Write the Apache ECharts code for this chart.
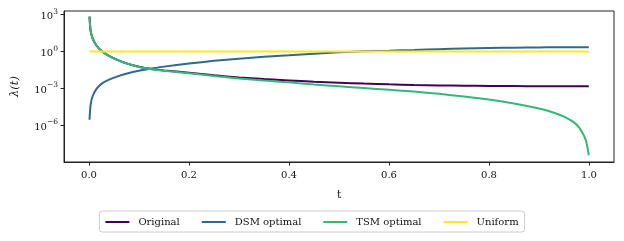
<!DOCTYPE html>
<html>
<head>
<meta charset="utf-8">
<script src="https://cdn.jsdelivr.net/npm/echarts@6/dist/echarts.min.js"></script>
<style>
html,body{margin:0;padding:0;background:#fff;}
#chart{width:624px;height:241px;}
</style>
</head>
<body>
<div id="chart"></div>
<script>
// time grid (t)
var tValues = [0.001, 0.003, 0.007, 0.015, 0.025, 0.04, 0.06, 0.08, 0.1, 0.125, 0.15, 0.2, 0.25, 0.3, 0.35, 0.4, 0.45, 0.5, 0.55, 0.6, 0.65, 0.7, 0.75, 0.8, 0.85, 0.9, 0.93, 0.95, 0.97, 0.98, 0.99, 0.995, 0.9996];
// log10 of lambda(t)
var originalLog10 = [2.84, 1.76, 1.1, 0.5, 0.06, -0.35, -0.73, -1.02, -1.23, -1.41, -1.53, -1.72, -1.92, -2.1, -2.23, -2.34, -2.45, -2.53, -2.6, -2.66, -2.71, -2.75, -2.77, -2.79, -2.8, -2.81, -2.82, -2.82, -2.82, -2.82, -2.82, -2.82, -2.82];
var dsmLog10 = [-5.54, -4.38, -3.65, -3.03, -2.62, -2.28, -1.97, -1.74, -1.56, -1.38, -1.22, -0.97, -0.75, -0.58, -0.42, -0.30, -0.17, -0.06, 0.03, 0.08, 0.13, 0.20, 0.25, 0.29, 0.32, 0.34, 0.35, 0.35, 0.36, 0.36, 0.36, 0.36, 0.36];
var tsmLog10 = [2.84, 1.76, 1.1, 0.5, 0.06, -0.35, -0.74, -1.03, -1.25, -1.43, -1.55, -1.75, -1.98, -2.19, -2.35, -2.5, -2.68, -2.82, -2.96, -3.1, -3.25, -3.43, -3.65, -3.9, -4.22, -4.63, -4.97, -5.28, -5.75, -6.16, -6.84, -7.4, -8.43];
var uniformT = [0.001, 0.9996];
var uniformLog10 = [0, 0];
// tick labels
var xTicks = [0.0, 0.2, 0.4, 0.6, 0.8, 1.0];
var yTickExps = [-6, -3, 0, 3];
var seriesNames = ['Original', 'DSM optimal', 'TSM optimal', 'Uniform'];
var colors = ['#440154', '#31688e', '#35b779', '#fde725'];

function pairs(xs, ys) { return xs.map(function (x, i) { return [x, ys[i]]; }); }

var FONT = 'DejaVu Serif';
var chart = echarts.init(document.getElementById('chart'), null, {renderer: 'canvas'});
var data = [pairs(tValues, originalLog10), pairs(tValues, dsmLog10), pairs(tValues, tsmLog10), pairs(uniformT, uniformLog10)];

chart.setOption({
  animation: false,
  backgroundColor: '#fff',
  color: colors,
  grid: {left: 64, right: 10, top: 11, bottom: 79, show: true, borderColor: '#222', borderWidth: 1, backgroundColor: 'transparent'},
  legend: {
    left: 'center', top: 211,
    data: seriesNames,
    icon: 'rect', itemWidth: 24, itemHeight: 2, itemGap: 22,
    borderColor: '#cccccc', borderWidth: 1, borderRadius: 3,
    padding: [6, 6, 5, 6],
    textStyle: {fontFamily: FONT, fontSize: 10, color: '#111', padding: [0, 0, 0, 4]}
  },
  xAxis: {
    type: 'value', min: -0.05, max: 1.05,
    name: 't', nameLocation: 'middle', nameGap: 28,
    nameTextStyle: {fontFamily: FONT, fontSize: 10.5, color: '#111'},
    axisLine: {show: true, onZero: false, lineStyle: {color: '#222', width: 1}},
    axisTick: {show: true, length: 3.5, lineStyle: {color: '#222'}, customValues: xTicks},
    axisLabel: {customValues: xTicks, margin: 8, fontFamily: FONT, fontSize: 10, color: '#111',
      formatter: function (v) { return v.toFixed(1); }},
    splitLine: {show: false}
  },
  yAxis: {
    type: 'value', min: -8.97, max: 3.3,
    name: 'λ(t)', nameLocation: 'middle', nameGap: 43,
    nameTextStyle: {fontFamily: FONT, fontSize: 11.5, fontStyle: 'italic', color: '#111'},
    axisLine: {show: true, onZero: false, lineStyle: {color: '#222', width: 1}},
    axisTick: {show: true, length: 3.5, lineStyle: {color: '#222'}, customValues: yTickExps},
    axisLabel: {customValues: yTickExps, margin: 6, color: '#111',
      formatter: function (v) { return '{b|10}{s|' + (v < 0 ? '\u2212' + (-v) : v) + '}'; },
      rich: {
        b: {fontFamily: FONT, fontSize: 10, lineHeight: 14, verticalAlign: 'bottom', color: '#111'},
        s: {fontFamily: FONT, fontSize: 7.5, lineHeight: 14, verticalAlign: 'top', color: '#111'}
      }},
    splitLine: {show: false}
  },
  series: seriesNames.map(function (n, i) {
    return {
      name: n, type: 'line', data: data[i], showSymbol: false, symbol: 'none',
      smooth: 0.2,
      lineStyle: {width: 2, color: colors[i]}, z: 2 + i, clip: true
    };
  })
});
</script>
</body>
</html>
